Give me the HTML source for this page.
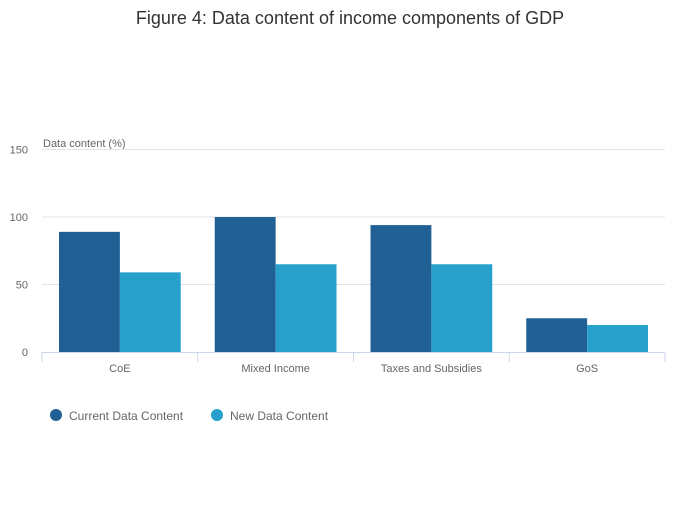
<!DOCTYPE html>
<html><head><meta charset="utf-8"><style>
body{margin:0;background:#fff;font-family:"Liberation Sans",sans-serif;}
svg text{font-family:"Liberation Sans",sans-serif;}
</style></head><body>
<svg width="700" height="502">
<text x="350" y="24" text-anchor="middle" font-size="18" fill="#333">Figure 4: Data content of income components of GDP</text>
<text x="43" y="147" font-size="11" fill="#666">Data content (%)</text>
<g id="grid"></g><g id="bars"></g><g id="xaxis"></g>
<g>
<circle cx="56" cy="415" r="6" fill="#206095"/>
<text x="69" y="420" font-size="12" fill="#666">Current Data Content</text>
<circle cx="217" cy="415" r="6" fill="#27a0cc"/>
<text x="230" y="420" font-size="12" fill="#666">New Data Content</text>
</g>
</svg>
<script>
const categories=["CoE","Mixed Income","Taxes and Subsidies","GoS"];
const currentValues=[89,100,94,25];
const newValues=[59,65,65,20];
const yTicks=[0,50,100,150];
const NS="http://www.w3.org/2000/svg";
const x0=42,x1=665,yBase=352,yTop=149.5,yMax=150;
const y=v=>yBase-(v/yMax)*(yBase-yTop);
const bw=(x1-x0)/categories.length;
function mk(t,a,p){const e=document.createElementNS(NS,t);for(const k in a)e.setAttribute(k,a[k]);p.appendChild(e);return e;}
const grid=document.getElementById('grid'),bars=document.getElementById('bars'),xa=document.getElementById('xaxis');
yTicks.forEach(t=>{
 if(t>0){const l=mk('line',{x1:x0,x2:x1,y1:y(t),y2:y(t),stroke:'#e3e3e3'},grid);
 
 }
 const tx=mk('text',{x:28,y:y(t)+4,'text-anchor':'end','font-size':11,fill:'#666'},grid);tx.textContent=t;
 
 
});
categories.forEach((c,i)=>{
 const cx=x0+bw*i,w=(bw-34)/2;
 const r1=mk('rect',{x:cx+17,y:y(currentValues[i]),width:w,height:yBase-y(currentValues[i]),fill:'#206095'},bars);
 
 
 const r2=mk('rect',{x:cx+17+w,y:y(newValues[i]),width:w,height:yBase-y(newValues[i]),fill:'#27a0cc'},bars);
 
 
 const tx=mk('text',{x:cx+bw/2,y:372,'text-anchor':'middle','font-size':11,fill:'#666'},xa);tx.textContent=c;
 
 
});
for(let i=0;i<=categories.length;i++){mk('line',{x1:x0+bw*i,x2:x0+bw*i,y1:352,y2:362,stroke:'#ccd6eb'},xa);}
const ax=mk('line',{x1:x0,x2:x1,y1:352.5,y2:352.5,stroke:'#ccd6eb'},xa);


</script>
</body></html>
